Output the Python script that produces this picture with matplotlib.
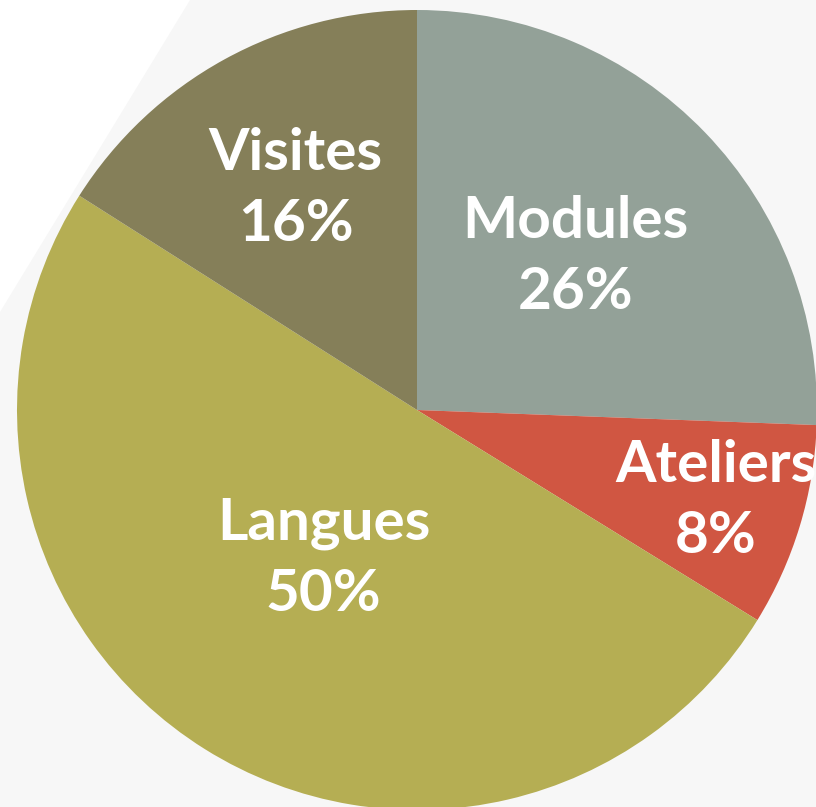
import numpy as np
import matplotlib
matplotlib.use("Agg")
import matplotlib.pyplot as plt
from matplotlib.patches import Polygon

# share of each activity (percent)
categories = ["Modules", "Ateliers", "Langues", "Visites"]
values = [25.6, 8.2, 50.2, 16.0]
colors = ["#93a198", "#d05642", "#b5ae53", "#857f59"]

# how far out each label sits (fraction of radius)
label_radius = [0.55, 0.78, 0.44, 0.63]

fig = plt.figure(figsize=(8.16, 8.07), dpi=100, facecolor="#f7f7f7")

# white corner in the top left of the slide background
corner = Polygon([(0, 1), (190 / 816, 1), (0, 1 - 312 / 807)], closed=True,
                 transform=fig.transFigure, facecolor="white", edgecolor="none", zorder=0)
fig.patches.append(corner)

ax = fig.add_axes([0, 0, 1, 1])
ax.set_facecolor("none")

wedges, _ = ax.pie(values, colors=colors, startangle=90, counterclock=False,
                   radius=1.0, wedgeprops=dict(linewidth=0))

for w, name, v, r in zip(wedges, categories, values, label_radius):
    mid = np.deg2rad((w.theta1 + w.theta2) / 2)
    x, y = r * np.cos(mid), r * np.sin(mid)
    ax.text(x, y, f"{name}\n{v:.0f}%", ha="center", va="center", color="white",
            fontsize=42, fontweight="bold", family=["Lato", "DejaVu Sans"],
            linespacing=1.42)

ax.set_xlim(-417 / 400, (816 - 417) / 400)
ax.set_ylim(-(807 - 410) / 400, 410 / 400)
ax.set_aspect("auto")
ax.axis("off")

fig.savefig("out.png", dpi=100, facecolor=fig.get_facecolor())
